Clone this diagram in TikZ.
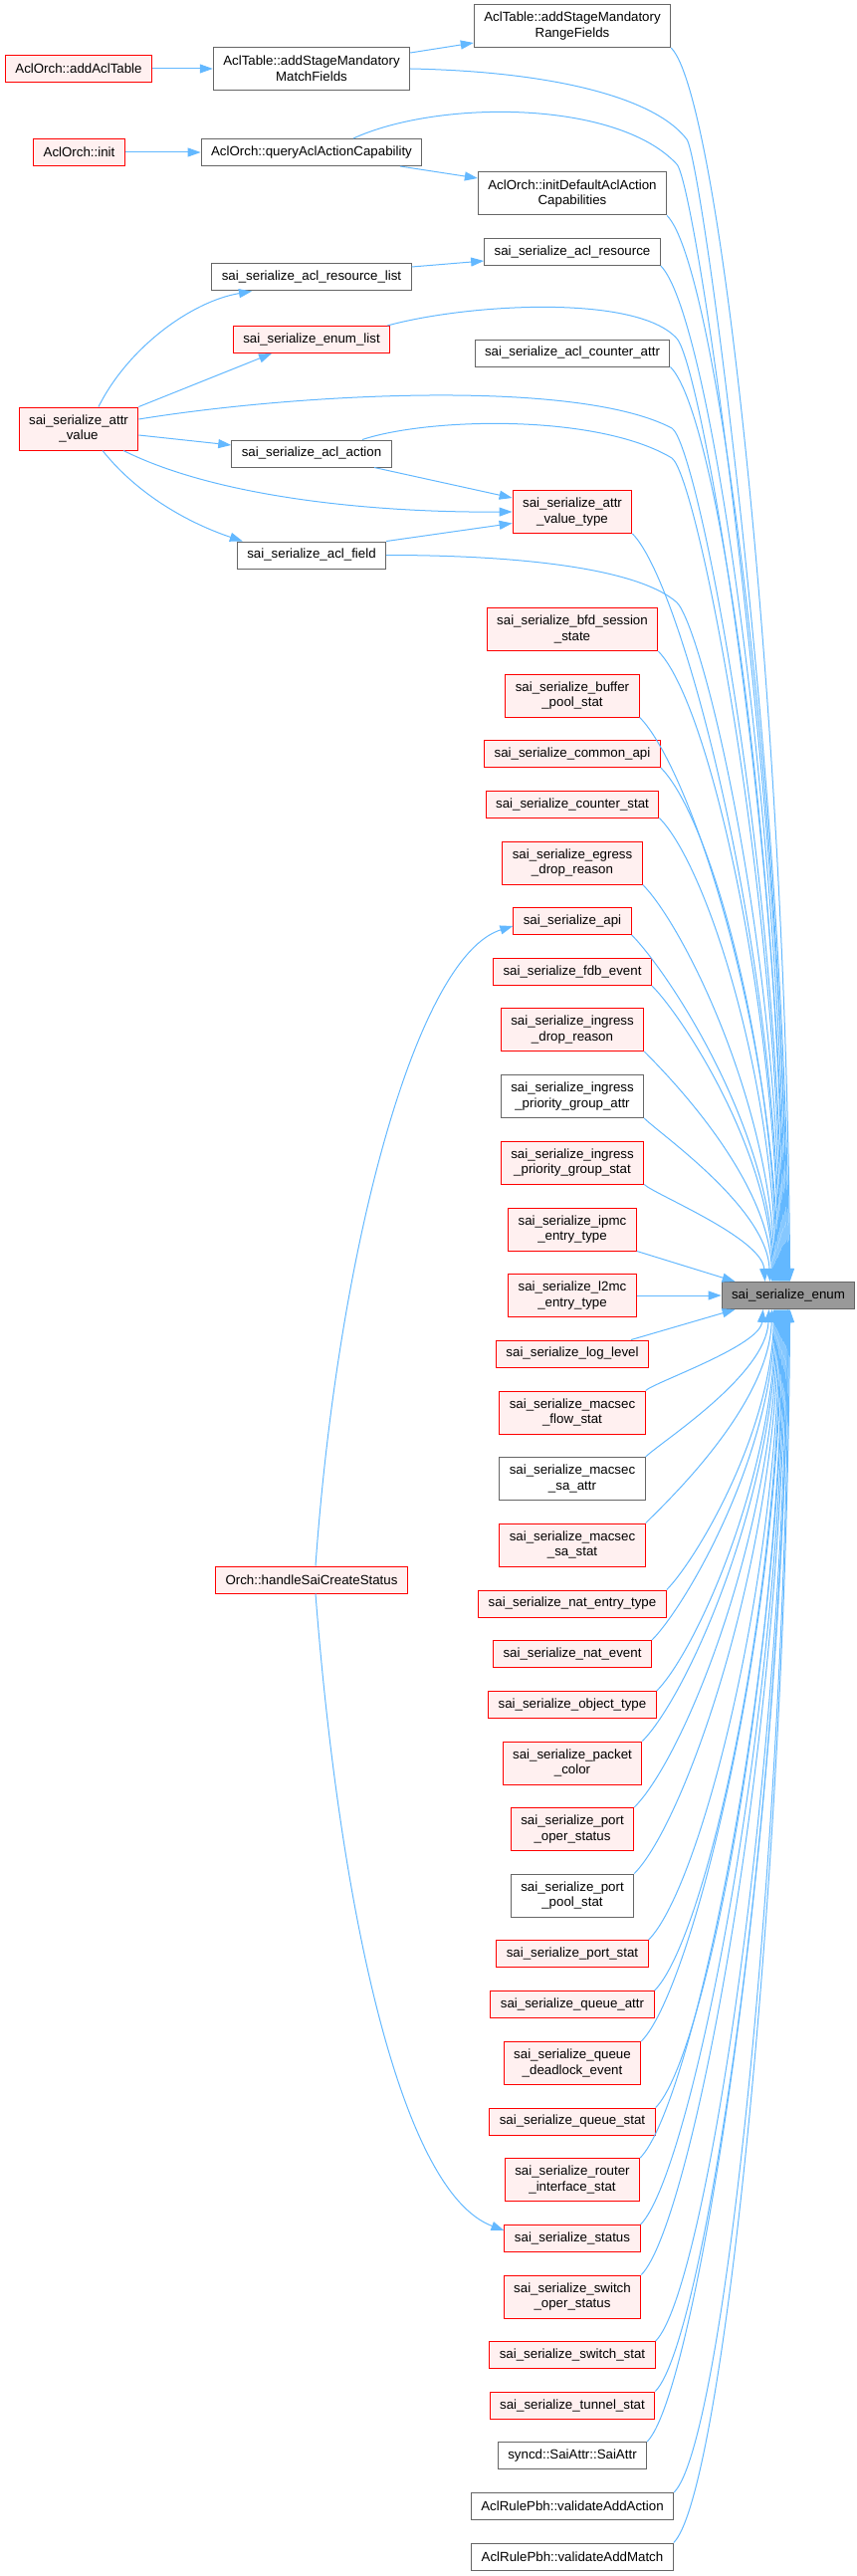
\documentclass[tikz,border=0pt]{standalone}
\usepackage{fontspec}
\setmainfont{Liberation Sans}
\usetikzlibrary{arrows.meta,calc}
\definecolor{EB}{HTML}{63B8FF}
\definecolor{RL}{HTML}{FF0000}
\definecolor{RF}{HTML}{FFF0F0}
\definecolor{GL}{HTML}{666666}
\definecolor{GF}{HTML}{999999}
\tikzset{
  box/.style={line width=1pt, align=center, inner xsep=10pt, inner ysep=0pt,
              minimum height=27pt, font=\fontsize{13.3}{15.5}\selectfont},
  gbox/.style={box, draw=GL, fill=white},
  gbox2/.style={gbox, minimum height=43pt},
  rbox/.style={box, draw=RL, fill=RF},
  rbox2/.style={rbox, minimum height=43pt},
  ebox/.style={box, draw=GL, fill=GF},
  cl/.style={color=EB, line width=1pt, -{Triangle[length=13pt,width=9pt]}},
}

\begin{document}
\begin{tikzpicture}[x=1pt, y=-1pt]
  \useasboundingbox (0,0) rectangle (860,2587);
  %% the called function
  \node[ebox] (enum) at (792,1301) {sai\_serialize\_enum};
  %% right column of callers
  \foreach \nm/\yy/\st/\txt in {
      rng/26/gbox2/{AclTable::addStageMandatory\\RangeFields},
      initdef/194.5/gbox2/{AclOrch::initDefaultAclAction\\Capabilities},
      aclres/253/gbox/{sai\_serialize\_acl\_resource},
      cntattr/354.5/gbox/{sai\_serialize\_acl\_counter\_attr},
      avtype/514/rbox2/{sai\_serialize\_attr\\\_value\_type},
      bfd/632/rbox2/{sai\_serialize\_bfd\_session\\\_state},
      bufpool/698.5/rbox2/{sai\_serialize\_buffer\\\_pool\_stat},
      comapi/757/rbox/{sai\_serialize\_common\_api},
      cntstat/807.5/rbox/{sai\_serialize\_counter\_stat},
      egress/866.5/rbox2/{sai\_serialize\_egress\\\_drop\_reason},
      api/925/rbox/{sai\_serialize\_api},
      fdb/976/rbox/{sai\_serialize\_fdb\_event},
      ingdrop/1034/rbox2/{sai\_serialize\_ingress\\\_drop\_reason},
      pgattr/1101/gbox2/{sai\_serialize\_ingress\\\_priority\_group\_attr},
      pgstat/1167.5/rbox2/{sai\_serialize\_ingress\\\_priority\_group\_stat},
      ipmc/1234.5/rbox2/{sai\_serialize\_ipmc\\\_entry\_type},
      l2mc/1301/rbox2/{sai\_serialize\_l2mc\\\_entry\_type},
      loglvl/1359.5/rbox/{sai\_serialize\_log\_level},
      mflow/1418.5/rbox2/{sai\_serialize\_macsec\\\_flow\_stat},
      msaattr/1485/gbox2/{sai\_serialize\_macsec\\\_sa\_attr},
      msastat/1551.5/rbox2/{sai\_serialize\_macsec\\\_sa\_stat},
      natent/1610.5/rbox/{sai\_serialize\_nat\_entry\_type},
      natev/1661/rbox/{sai\_serialize\_nat\_event},
      objtype/1712/rbox/{sai\_serialize\_object\_type},
      pktcol/1770.5/rbox2/{sai\_serialize\_packet\\\_color},
      portoper/1837/rbox2/{sai\_serialize\_port\\\_oper\_status},
      portpool/1903.5/gbox2/{sai\_serialize\_port\\\_pool\_stat},
      portstat/1962/rbox/{sai\_serialize\_port\_stat},
      qattr/2013/rbox/{sai\_serialize\_queue\_attr},
      qdead/2072/rbox2/{sai\_serialize\_queue\\\_deadlock\_event},
      qstat/2130.5/rbox/{sai\_serialize\_queue\_stat},
      rif/2189/rbox2/{sai\_serialize\_router\\\_interface\_stat},
      status/2248/rbox/{sai\_serialize\_status},
      swoper/2306.5/rbox2/{sai\_serialize\_switch\\\_oper\_status},
      swstat/2365/rbox/{sai\_serialize\_switch\_stat},
      tunstat/2415.5/rbox/{sai\_serialize\_tunnel\_stat},
      saiattr/2466/gbox/{syncd::SaiAttr::SaiAttr},
      vaction/2517/gbox/{AclRulePbh::validateAddAction},
      vmatch/2567.5/gbox/{AclRulePbh::validateAddMatch}}
    \node[\st] (\nm) at (575,\yy) {\txt};
  %% left part
  \node[gbox2] (mfld) at (313,69) {AclTable::addStageMandatory\\MatchFields};
  \node[rbox] (addtbl) at (79,69) {AclOrch::addAclTable};
  \node[rbox] (init) at (79.5,153) {AclOrch::init};
  \node[gbox] (query) at (313,153) {AclOrch::queryAclActionCapability};
  \node[gbox] (reslist) at (313,278.5) {sai\_serialize\_acl\_resource\_list};
  \node[rbox] (enumlist) at (313,341) {sai\_serialize\_enum\_list};
  \node[rbox2] (attrval) at (79,430.5) {sai\_serialize\_attr\\\_value};
  \node[gbox] (aclact) at (313,455.5) {sai\_serialize\_acl\_action};
  \node[gbox] (aclfld) at (313,557.5) {sai\_serialize\_acl\_field};
  \node[rbox] (handle) at (313,1586.5) {Orch::handleSaiCreateStatus};

  %% short calls on the left
  \draw[cl] (addtbl) -- (mfld);
  \draw[cl] ([yshift=16]mfld.east) -- ([yshift=-17]rng.west);
  \draw[cl] (init) -- (query);
  \draw[cl] ([xshift=89]query.south) -- ([yshift=15.5]initdef.west);
  \draw[cl] ([yshift=10.5]reslist.east) -- ([yshift=-9]aclres.west);
  \draw[cl] ([xshift=20]attrval.north) .. controls +(30,-60) and +(-60,10) .. ([xshift=-60]reslist.south);
  \draw[cl] (attrval.north east) -- ([xshift=-40]enumlist.south);
  \draw[cl] ([yshift=-6.5]attrval.east) -- ([yshift=8.5]aclact.west);
  \draw[cl] ([xshift=45]attrval.south) .. controls +(96,48) and +(-135,1) .. (avtype.west);
  \draw[cl] ([xshift=24]attrval.south) .. controls +(40,50) and +(-45,-15) .. ([xshift=6]aclfld.north west);
  \draw[cl] ([xshift=63]aclact.south) -- ([yshift=14]avtype.west);
  \draw[cl] (aclfld.north east) -- ([yshift=-11.5]avtype.west);
  \draw[cl] ([xshift=4]handle.north) .. controls +(23,-323) and +(-96,30) .. ([yshift=-5]api.west);
  \draw[cl] ([xshift=4]handle.south) .. controls +(23,300) and +(-107,-40) .. ([yshift=8]status.west);

  %% long calls from the left part into enum
  \draw[cl] (mfld.east) .. controls +(150,3) and +(-30,-40) .. (690,140)
    .. controls +(15,20) and +(-3,-500) .. ([xshift=68pt]enum.north west);
  \draw[cl] ([xshift=42]query.north) .. controls +(85,-39) and +(-60,-65) .. (680,165)
    .. controls +(20,22) and +(-3,-480) .. ([xshift=67pt]enum.north west);
  \draw[cl] ([xshift=-3]enumlist.north east) .. controls +(80,-22) and +(-40,-45) .. (680,340)
    .. controls +(25,28) and +(-3,-450) .. ([xshift=64pt]enum.north west);
  \draw[cl] ([yshift=9.5]attrval.east) .. controls +(160,-26) and +(-95,-50) .. (675,430)
    .. controls +(25,15) and +(-3,-420) .. ([xshift=62pt]enum.north west);
  \draw[cl] ([xshift=51]aclact.north) .. controls +(66,-22) and +(-75,-45) .. (675,460)
    .. controls +(25,18) and +(-3,-400) .. ([xshift=61pt]enum.north west);
  \draw[cl] (aclfld.east) .. controls +(130,0) and +(-40,-35) .. (680,605)
    .. controls +(25,25) and +(-3,-350) .. ([xshift=60pt]enum.north west);

  %% right column into enum, from above (let values are in pt, canvas up)
  \foreach \s/\e in {rng/69, initdef/66, aclres/65, cntattr/63, avtype/59, bfd/58,
      bufpool/57, comapi/56, cntstat/55, egress/54, api/53, fdb/52, ingdrop/51,
      pgattr/49, pgstat/44}
    \draw[cl] let \p1=(\s.south east), \p2=([xshift=\e pt]enum.north west),
      \n1={min(50pt,0.1*((\y1)-(\y2)))}, \n2={0.45*((\y1)-(\y2))} in
      (\p1) .. controls +(\n1,-\n1) and +(-3pt,\n2) .. (\p2);
  \draw[cl] (ipmc.south east) -- ([xshift=14pt]enum.north west);
  \draw[cl] (l2mc) -- (enum);
  \draw[cl] ([xshift=-18pt]loglvl.north east) -- ([xshift=14pt]enum.south west);
  %% right column into enum, from below
  \foreach \s/\e in {mflow/42, msaattr/48, msastat/51, natent/53, natev/54,
      objtype/55, pktcol/56, portoper/57, portpool/58, portstat/59, qattr/60,
      qdead/61, qstat/62, rif/63, status/64, swoper/65, swstat/66, tunstat/67,
      saiattr/67, vaction/68, vmatch/69}
    \draw[cl] let \p1=(\s.north east), \p2=([xshift=\e pt]enum.south west),
      \n1={min(50pt,0.1*((\y2)-(\y1)))}, \n2={0.45*((\y2)-(\y1))} in
      (\p1) .. controls +(\n1,\n1) and +(-3pt,-\n2) .. (\p2);
\end{tikzpicture}
\end{document}
